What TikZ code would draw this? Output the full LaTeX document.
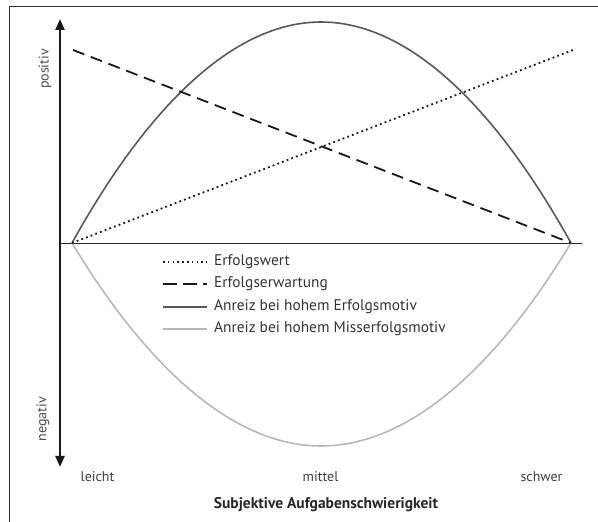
\documentclass[tikz,border=0pt]{standalone}
\usepackage{fontspec}
\setmainfont{PT Sans}
\usetikzlibrary{arrows.meta}

\begin{document}
\begin{tikzpicture}[x=1pt,y=1pt,font=\fontsize{14}{16}\selectfont]
   \useasboundingbox (0,0) rectangle (598,522);
   \draw[black!80,line width=0.8pt] (9,0)--(9,516)--(598,516);
   \coordinate (O) at (72,279);
   \coordinate (R) at (571,279);
   \coordinate (top) at (60,503);
   \coordinate (bot) at (60,55);
   \draw[{Triangle[length=11pt,width=9pt]}-{Triangle[length=11pt,width=9pt]},line width=2.2pt,black!90] (bot)--(top);
   \draw[black!85] (60,279)--(582,279);
   \node[rotate=90,text=black!70] (pos) at (45,453) {positiv};
   \node[rotate=90,text=black!70] (neg) at (43,103) {negativ};
   \draw[black!65,line width=1.6pt] (O) parabola bend (321,500) (R); % Erfolgsmotiv
   \draw[black!28,line width=1.6pt] (O) parabola bend (321,76) (R); % Misserfolgsmotiv
   \draw[dash pattern=on 12pt off 7pt,line width=1.8pt,black!90] (73,472)--(R);
   \draw[dash pattern=on 1.8pt off 3.2pt,line width=1.8pt,black!90] (O)--(573,472);
   % legend
   \begin{scope}[font=\fontsize{15.4}{17}\selectfont]
   \draw[dash pattern=on 1.6pt off 3.2pt,line width=1.6pt,black!90] (163,260)--(207,260) node[right=3pt,text=black!80] (l1) {Erfolgswert};
   \draw[dash pattern=on 14pt off 6pt,line width=1.8pt,black!90] (163,238)--(207,238) node[right=3pt,text=black!80] (l2) {Erfolgserwartung};
   \draw[black!65,line width=1.6pt] (163,215)--(207,215) node[right=3pt,text=black!80] (l3) {Anreiz bei hohem Erfolgsmotiv};
   \draw[black!28,line width=1.6pt] (163,193)--(207,193) node[right=3pt,text=black!80] (l4) {Anreiz bei hohem Misserfolgsmotiv};
   \end{scope}
   % x labels
   \node[text=black!75] (leicht) at (97.5,45) {leicht};
   \node[text=black!75] (mittel) at (320.5,45) {mittel};
   \node[text=black!75] (schwer) at (541.5,45) {schwer};
   \node[font=\fontsize{15.5}{17}\selectfont\bfseries,text=black!85] (xlab) at (326,17) {Subjektive Aufgabenschwierigkeit};
 \end{tikzpicture}
\end{document}
